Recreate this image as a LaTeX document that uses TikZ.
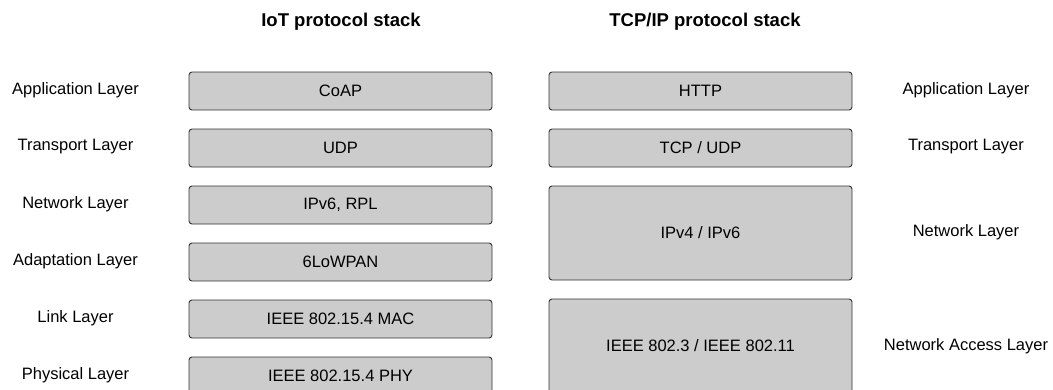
\documentclass[tikz,border=0pt]{standalone}
\usepackage{fontspec}
\setmainfont{Liberation Sans}
\begin{document}
\begin{tikzpicture}[x=1pt,y=-1pt,
  layerbox/.style={draw=black!80,fill=black!20,line width=0.9pt,rounded corners=3pt,minimum width=303pt,inner sep=0pt,font=\fontsize{16.5}{18}\selectfont},
  lbl/.style={font=\fontsize{16.5}{18}\selectfont,inner sep=0pt},
  ttl/.style={font=\bfseries\fontsize{18.5}{20}\selectfont,inner sep=0pt}]
\useasboundingbox (0,0) rectangle (1053,389);
\clip (0,0) rectangle (1053,389);
\node[ttl] (t1) at (341,22) {IoT protocol stack};
\node[ttl] (t2) at (705,22) {TCP/IP protocol stack};
% IoT stack
\node[layerbox,minimum height=38pt] (coap) at (340.5,91) {CoAP};
\node[layerbox,minimum height=38pt] (udp) at (340.5,148) {UDP};
\node[layerbox,minimum height=38pt] (ipv6) at (340.5,205) {IPv6, RPL};
\node[layerbox,minimum height=38pt] (lowpan) at (340.5,262) {6LoWPAN};
\node[layerbox,minimum height=38pt] (mac) at (340.5,319) {IEEE 802.15.4 MAC};
\node[layerbox,minimum height=38pt] (phy) at (340.5,376) {IEEE 802.15.4 PHY};
% TCP/IP stack
\node[layerbox,minimum height=38pt] (http) at (700.5,91) {HTTP};
\node[layerbox,minimum height=38pt] (tcp) at (700.5,148) {TCP / UDP};
\node[layerbox,minimum height=94pt] (ip) at (700.5,233) {IPv4 / IPv6};
\node[layerbox,minimum height=94pt] (ieee) at (700.5,346) {IEEE 802.3 / IEEE 802.11};
% left labels
\node[lbl] (l1) at (75.5,90) {Application Layer};
\node[lbl] (l2) at (75.5,147) {Transport Layer};
\node[lbl] (l3) at (75.5,204) {Network Layer};
\node[lbl] (l4) at (75.5,261) {Adaptation Layer};
\node[lbl] (l5) at (75.5,318) {Link Layer};
\node[lbl] (l6) at (75.5,375) {Physical Layer};
% right labels
\node[lbl] (r1) at (966,90) {Application Layer};
\node[lbl] (r2) at (966,147) {Transport Layer};
\node[lbl] (r3) at (966,232) {Network Layer};
\node[lbl] (r4) at (966,346) {Network Access Layer};
\end{tikzpicture}
\end{document}
